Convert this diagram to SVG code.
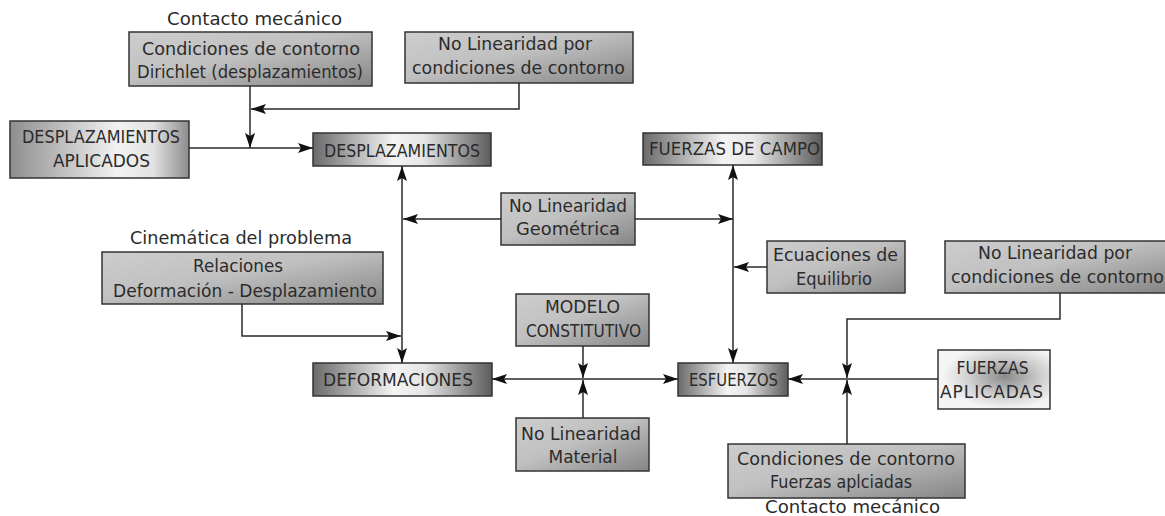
<svg xmlns="http://www.w3.org/2000/svg" width="1165" height="516" viewBox="0 0 1165 516">
<defs>
<linearGradient id="gSilver" x1="0" y1="0" x2="1" y2="1">
<stop offset="0" stop-color="#cdcdcd"/>
<stop offset="0.45" stop-color="#c0c0c0"/>
<stop offset="1" stop-color="#858585"/>
</linearGradient>
<linearGradient id="gMetal" x1="0" y1="0" x2="1" y2="0">
<stop offset="0" stop-color="#6a6a6a"/>
<stop offset="0.45" stop-color="#f4f4f4"/>
<stop offset="0.62" stop-color="#e6e6e6"/>
<stop offset="1" stop-color="#5c5c5c"/>
</linearGradient>
<linearGradient id="gApplied1" x1="0" y1="0" x2="1" y2="0">
<stop offset="0" stop-color="#8e8e8e"/>
<stop offset="0.6" stop-color="#f2f2f2"/>
<stop offset="0.8" stop-color="#e2e2e2"/>
<stop offset="1" stop-color="#8c8c8c"/>
</linearGradient>
<radialGradient id="gApplied2" cx="0.6" cy="0.45" r="0.55">
<stop offset="0" stop-color="#8a8a8a"/>
<stop offset="0.6" stop-color="#d0d0d0"/>
<stop offset="1" stop-color="#f4f4f4"/>
</radialGradient>
<marker id="arr" markerUnits="userSpaceOnUse" markerWidth="16" markerHeight="11" refX="15" refY="5.5" orient="auto-start-reverse" viewBox="0 0 16 11">
<path d="M0,0.5 L15,5.5 L0,10.5 L3,5.5 Z" fill="#111"/>
</marker>
<style>
.box{stroke:#333;stroke-width:1.5}
.silver{fill:url(#gSilver)}
.metal{fill:url(#gMetal)}
.ap1{fill:url(#gApplied1)}
.ap2{fill:url(#gApplied2)}
text{font-family:"DejaVu Sans","Liberation Sans",sans-serif;fill:#2b2b2b;text-anchor:middle;font-size:17px}
.cap{font-size:18px}
.conn path{fill:none;stroke:#2a2a2a;stroke-width:1.5}
</style>
</defs>
<rect width="1165" height="516" fill="#fff"/>

<g id="label-contacto-top">
<text x="254.5" y="25" textLength="175" lengthAdjust="spacingAndGlyphs">Contacto mecánico</text>
</g>
<g id="n-dirichlet">
<rect class="box silver" x="129" y="32" width="243" height="54"/>
<text x="251" y="55" textLength="218" lengthAdjust="spacingAndGlyphs">Condiciones de contorno</text>
<text x="250" y="78" textLength="226" lengthAdjust="spacingAndGlyphs">Dirichlet (desplazamientos)</text>
</g>
<g id="n-nolin-cc-top">
<rect class="box silver" x="405" y="32" width="228" height="51"/>
<text x="515" y="50" textLength="154" lengthAdjust="spacingAndGlyphs">No Linearidad por</text>
<text x="518.5" y="74" textLength="213" lengthAdjust="spacingAndGlyphs">condiciones de contorno</text>
</g>
<g id="n-desp-aplicados">
<rect class="box ap1" x="10" y="121" width="179" height="57"/>
<text x="101" y="143" textLength="158" lengthAdjust="spacingAndGlyphs">DESPLAZAMIENTOS</text>
<text x="101.5" y="167" textLength="97" lengthAdjust="spacingAndGlyphs">APLICADOS</text>
</g>
<g id="n-desplazamientos">
<rect class="box metal" x="313" y="133" width="178" height="33"/>
<text class="cap" x="402" y="157" textLength="156" lengthAdjust="spacingAndGlyphs">DESPLAZAMIENTOS</text>
</g>
<g id="n-fuerzas-campo">
<rect class="box metal" x="643" y="133" width="179" height="32"/>
<text class="cap" x="734.5" y="155" textLength="171" lengthAdjust="spacingAndGlyphs">FUERZAS DE CAMPO</text>
</g>
<g id="n-nolin-geom">
<rect class="box silver" x="501" y="193" width="134" height="52"/>
<text x="568" y="212" textLength="118" lengthAdjust="spacingAndGlyphs">No Linearidad</text>
<text x="568" y="235" textLength="104" lengthAdjust="spacingAndGlyphs">Geométrica</text>
</g>
<g id="label-cinematica">
<text x="241" y="244" textLength="222" lengthAdjust="spacingAndGlyphs">Cinemática del problema</text>
</g>
<g id="n-relaciones">
<rect class="box silver" x="102" y="252" width="281" height="52"/>
<text x="238" y="272" textLength="90" lengthAdjust="spacingAndGlyphs">Relaciones</text>
<text x="245" y="297" textLength="264" lengthAdjust="spacingAndGlyphs">Deformación - Desplazamiento</text>
</g>
<g id="n-ecuaciones">
<rect class="box silver" x="767" y="241" width="138" height="52"/>
<text x="835.5" y="261" textLength="125" lengthAdjust="spacingAndGlyphs">Ecuaciones de</text>
<text x="834" y="285" textLength="76" lengthAdjust="spacingAndGlyphs">Equilibrio</text>
</g>
<g id="n-nolin-cc-right">
<rect class="box silver" x="945" y="241" width="222" height="52"/>
<text x="1055" y="259" textLength="154" lengthAdjust="spacingAndGlyphs">No Linearidad por</text>
<text x="1057.5" y="283" textLength="213" lengthAdjust="spacingAndGlyphs">condiciones de contorno</text>
</g>
<g id="n-modelo">
<rect class="box silver" x="516" y="294" width="133" height="52"/>
<text x="582.5" y="313" textLength="75" lengthAdjust="spacingAndGlyphs">MODELO</text>
<text x="583.5" y="337" textLength="115" lengthAdjust="spacingAndGlyphs">CONSTITUTIVO</text>
</g>
<g id="n-deformaciones">
<rect class="box metal" x="313" y="363" width="179" height="33"/>
<text class="cap" x="398" y="386" textLength="150" lengthAdjust="spacingAndGlyphs">DEFORMACIONES</text>
</g>
<g id="n-esfuerzos">
<rect class="box metal" x="678" y="363" width="110" height="33"/>
<text class="cap" x="733.5" y="386" textLength="89" lengthAdjust="spacingAndGlyphs">ESFUERZOS</text>
</g>
<g id="n-fuerzas-aplicadas">
<rect class="box ap2" x="938" y="350" width="112" height="59"/>
<text x="992.5" y="374" textLength="72" lengthAdjust="spacingAndGlyphs">FUERZAS</text>
<text x="991.5" y="398" textLength="103" lengthAdjust="spacing">APLICADAS</text>
</g>
<g id="n-nolin-material">
<rect class="box silver" x="516" y="418" width="133" height="53"/>
<text x="581" y="440" textLength="120" lengthAdjust="spacingAndGlyphs">No Linearidad</text>
<text x="583" y="463" textLength="69" lengthAdjust="spacingAndGlyphs">Material</text>
</g>
<g id="n-cc-fuerzas">
<rect class="box silver" x="728" y="444" width="237" height="54"/>
<text x="846" y="465" textLength="218" lengthAdjust="spacingAndGlyphs">Condiciones de contorno</text>
<text x="841" y="488" textLength="142" lengthAdjust="spacingAndGlyphs">Fuerzas aplciadas</text>
</g>
<g id="label-contacto-bottom">
<text x="852.5" y="513" textLength="175" lengthAdjust="spacingAndGlyphs">Contacto mecánico</text>
</g>

<g id="connectors" class="conn">
<path d="M250,86 V148" marker-end="url(#arr)"/>
<path d="M519,83 V109 H251" marker-end="url(#arr)"/>
<path d="M189,148 H313" marker-end="url(#arr)"/>
<path d="M402,166 V363" marker-start="url(#arr)" marker-end="url(#arr)"/>
<path d="M501,219 H403" marker-end="url(#arr)"/>
<path d="M635,219 H733" marker-end="url(#arr)"/>
<path d="M733,165 V363" marker-start="url(#arr)" marker-end="url(#arr)"/>
<path d="M767,267 H734" marker-end="url(#arr)"/>
<path d="M242,304 V336 H401" marker-end="url(#arr)"/>
<path d="M492,379 H678" marker-start="url(#arr)" marker-end="url(#arr)"/>
<path d="M583,346 V378" marker-end="url(#arr)"/>
<path d="M583,418 V380" marker-end="url(#arr)"/>
<path d="M938,379 H788" marker-end="url(#arr)"/>
<path d="M1060,293 V319 H847 V378" marker-end="url(#arr)"/>
<path d="M847,444 V380" marker-end="url(#arr)"/>
</g>
</svg>
